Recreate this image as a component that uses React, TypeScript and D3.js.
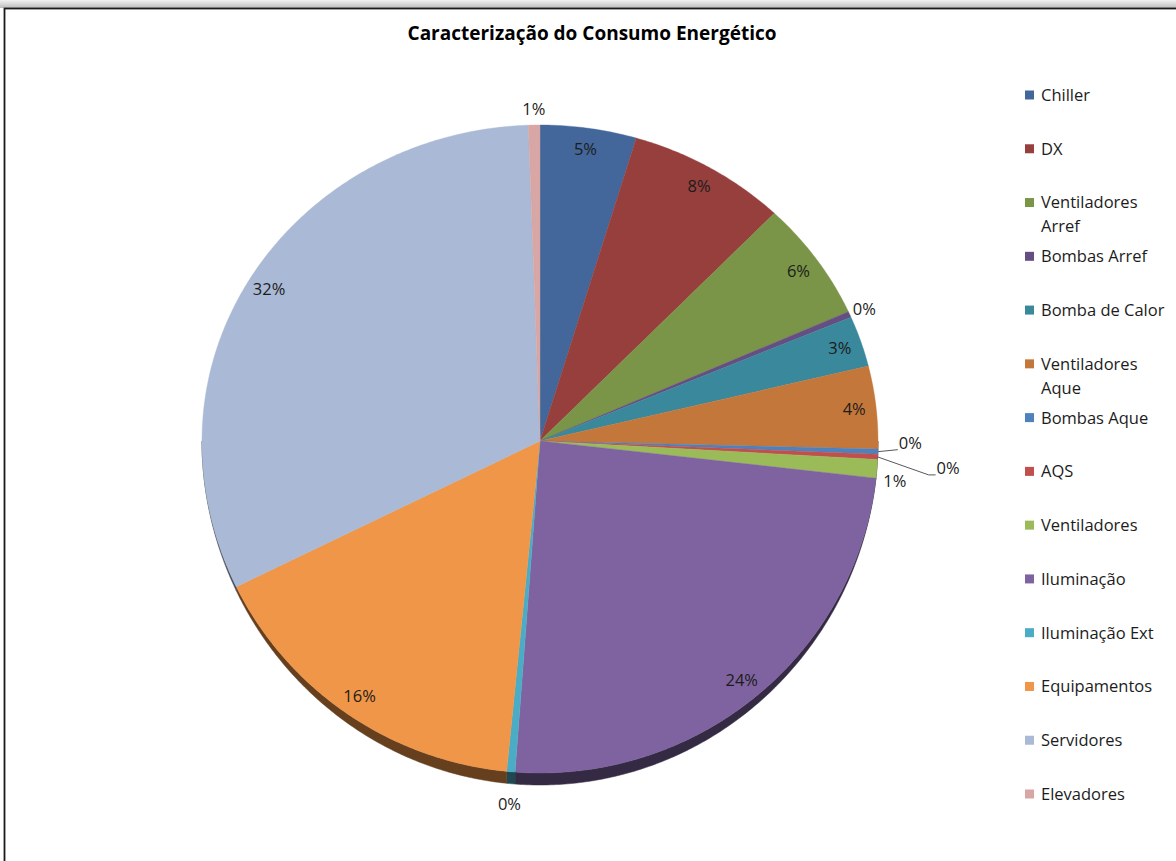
import React from 'react';
import * as d3 from 'd3';

const title = 'Caracterização do Consumo Energético';
const categories = [
  'Chiller', 'DX', 'Ventiladores Arref', 'Bombas Arref', 'Bomba de Calor',
  'Ventiladores Aque', 'Bombas Aque', 'AQS', 'Ventiladores', 'Iluminação',
  'Iluminação Ext', 'Equipamentos', 'Servidores', 'Elevadores',
];
const values = [4.6, 7.6, 6.1, 0.3, 2.6, 4.2, 0.25, 0.25, 0.9, 24.4, 0.4, 16.2, 31.7, 0.55];
const colors = [
  '#43679A', '#963F3D', '#7A9547', '#654E82', '#3A889B', '#C4773A', '#4F81BD',
  '#C0504D', '#9BBB59', '#7E63A0', '#4BACC6', '#F09648', '#AAB9D5', '#D7A6A5',
];

const W = 1176, H = 861;
const CX = 540, CY = 441, RX = 338, RY_TOP = 316, RY_BOT = 332, DEPTH = 12;
const FONT = "'Open Sans', 'Liberation Sans', sans-serif";
const LABEL_FS = 16.5;

// layout helpers for the crowded tiny slices (leader lines): [dx, dy, horizontal tail]
const leaderLayout: Record<string, [number, number, number]> = {
  'Bombas Aque': [20, -2, 0],
  'AQS': [51, 18, 7],
};
// extra nudges for outside labels without leaders
const labelNudge: Record<string, [number, number]> = {
  'Ventiladores': [2, 11],
  'Bombas Arref': [0, 1],
};

function rim(t: number, k = 1): [number, number] {
  const s = Math.sin(t), c = Math.cos(t);
  const ry = c > 0 ? RY_TOP : RY_BOT;
  return [CX + k * RX * s, CY - k * ry * c];
}

const depthAt = (t: number) => DEPTH * Math.pow(Math.max(0, -Math.cos(t)), 1.3);

function arcPts(a0: number, a1: number, withDepth = false): [number, number][] {
  const n = Math.max(2, Math.ceil((a1 - a0) / (Math.PI / 360)));
  const out: [number, number][] = [];
  for (let i = 0; i <= n; i++) {
    const t = a0 + ((a1 - a0) * i) / n;
    const p = rim(t);
    out.push([p[0], p[1] + (withDepth ? depthAt(t) : 0)]);
  }
  return out;
}

const toPath = (pts: [number, number][]) =>
  'M' + pts.map((p) => p[0].toFixed(2) + ',' + p[1].toFixed(2)).join('L') + 'Z';

function wrap(label: string): string[] {
  if (label.length <= 14) return [label];
  const i = label.lastIndexOf(' ');
  return [label.slice(0, i), label.slice(i + 1)];
}

export default function App() {
  const total = d3.sum(values);
  const arcs = d3.pie<number>().sort(null).value((d) => d)(values);
  const legendY = d3.scalePoint<string>().domain(categories).range([95, 794]);

  const sides = arcs.map((a, i) => {
    const s = Math.max(a.startAngle, Math.PI / 2);
    const e = Math.min(a.endAngle, (3 * Math.PI) / 2);
    if (e <= s) return null;
    const top = arcPts(s, e);
    const bot = arcPts(s, e, true).reverse();
    const col = d3.rgb(colors[i]);
    const dark = d3.rgb(col.r * 0.42, col.g * 0.42, col.b * 0.42).toString();
    return <path key={'s' + i} d={toPath([...top, ...bot])} fill={dark} stroke={dark} strokeWidth={0.5} />;
  });

  const tops = arcs.map((a, i) => {
    const pts: [number, number][] = [[CX, CY], ...arcPts(a.startAngle, a.endAngle)];
    return <path key={'t' + i} d={toPath(pts)} fill={colors[i]} stroke={colors[i]} strokeWidth={0.4} />;
  });

  const labels = arcs.map((a, i) => {
    const pct = Math.round((values[i] / total) * 100) + '%';
    const mid = (a.startAngle + a.endAngle) / 2;
    const name = categories[i];
    if (values[i] / total >= 0.02) {
      const p = rim(mid, 0.935);
      return (
        <text key={'l' + i} x={p[0]} y={p[1]} dy="0.36em" textAnchor="middle" fontSize={LABEL_FS} fill="#1c1c1c">{pct}</text>
      );
    }
    const r = rim(mid);
    if (leaderLayout[name]) {
      const [dx, dy, h] = leaderLayout[name];
      const ex = r[0] + dx, ey = r[1] + dy;
      return (
        <g key={'l' + i}>
          <polyline points={`${r[0]},${r[1]} ${ex},${ey} ${ex + h},${ey}`} fill="none" stroke="#595959" strokeWidth={1} />
          <text x={ex + h + 1} y={ey} dy="-0.06em" textAnchor="start" fontSize={LABEL_FS} fill="#1c1c1c">{pct}</text>
        </g>
      );
    }
    const dir: [number, number] = [Math.sin(mid), -Math.cos(mid)];
    let x = r[0] + dir[0] * 16, y = r[1] + dir[1] * 16;
    if (Math.cos(mid) < 0 && Math.abs(Math.sin(mid)) < 0.5) y += depthAt(mid) + 4;
    const nd = labelNudge[name] || [0, 0];
    x += nd[0];
    y += nd[1];
    return (
      <text key={'l' + i} x={x} y={y} dy="0.36em" textAnchor="middle" fontSize={LABEL_FS} fill="#1c1c1c">{pct}</text>
    );
  });

  const legend = categories.map((c, i) => {
    const y = legendY(c)!;
    const lines = wrap(c);
    return (
      <g key={'g' + i}>
        <rect x={1025} y={y - 4.5} width={9} height={9} fill={colors[i]} />
        {lines.map((ln, j) => (
          <text key={j} x={1041} y={y + j * 24} dy="0.36em" fontSize={16.5} fill="#1c1c1c">{ln}</text>
        ))}
      </g>
    );
  });

  return (
    <svg width={W} height={H} style={{ position: 'absolute', left: 0, top: 0, fontFamily: FONT }}>
      <defs>
        <linearGradient id="topShade" x1="0" y1="0" x2="0" y2="1">
          <stop offset="0" stopColor="#f2f2f2" />
          <stop offset="1" stopColor="#bdbdbd" />
        </linearGradient>
      </defs>
      <rect x={0} y={0} width={W} height={H} fill="#ffffff" />
      <rect x={0} y={0} width={W} height={8} fill="url(#topShade)" />
      <rect x={4.5} y={8.5} width={W + 20} height={H + 20} fill="#ffffff" stroke="#1a1a1a" strokeWidth={1.8} />
      <text x={592} y={33} dy="0.36em" textAnchor="middle" fontSize={19} fontWeight="bold" fill="#000">{title}</text>
      <g>{sides}</g>
      <g>{tops}</g>
      <g>{labels}</g>
      <g>{legend}</g>
    </svg>
  );
}
